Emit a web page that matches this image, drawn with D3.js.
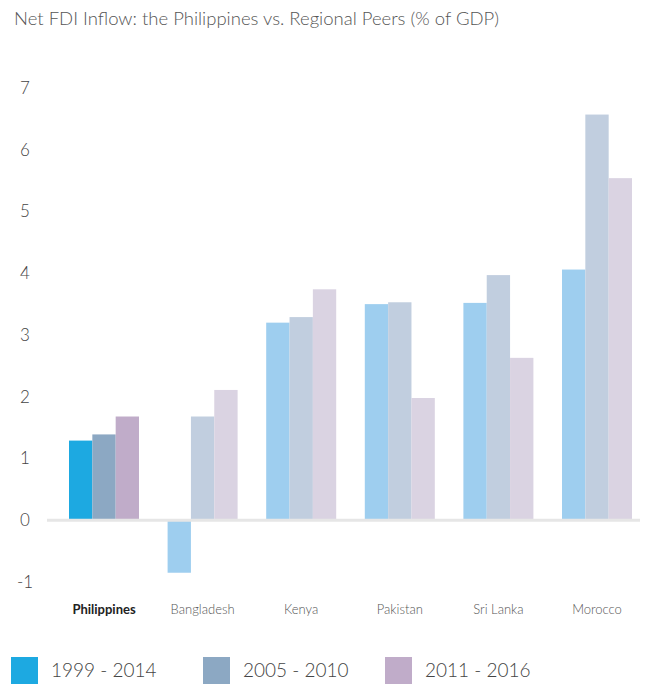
<!DOCTYPE html>
<html>
<head>
<meta charset="utf-8">
<script src="https://cdn.jsdelivr.net/npm/d3@7"></script>
<style>
  html, body { margin: 0; padding: 0; background: #fff; }
  svg { display: block; font-family: Lato, "Open Sans", sans-serif; font-weight: 300; }
</style>
</head>
<body>
<svg id="chart" width="652" height="694"></svg>
<script>
// Net FDI inflow as a share of GDP, by country and period
const countries = ["Philippines", "Bangladesh", "Kenya", "Pakistan", "Sri Lanka", "Morocco"];
const periods = ["1999 - 2014", "2005 - 2010", "2011 - 2016"];
const fdi1999to2014 = [1.29, -0.85, 3.2, 3.5, 3.52, 4.06];
const fdi2005to2010 = [1.39, 1.68, 3.29, 3.53, 3.97, 6.57];
const fdi2011to2016 = [1.68, 2.11, 3.74, 1.98, 2.63, 5.54];
const yTicks = [-1, 0, 1, 2, 3, 4, 5, 6, 7];

const seriesValues = [fdi1999to2014, fdi2005to2010, fdi2011to2016];
const focusColors = ["#1DA9E1", "#8CA8C3", "#C0ACC9"];
const peerColors = ["#9ECEEF", "#C1CEDF", "#DAD3E2"];
const focusCountry = "Philippines";

const svg = d3.select("#chart");

// Title
svg.append("text")
  .attr("x", 14).attr("y", 25)
  .attr("font-size", 18.5)
  .attr("fill", "#555")
  .text("Net FDI Inflow: the Philippines vs. Regional Peers (% of GDP)");

const x0 = d3.scaleBand().domain(countries).range([69, 632]).paddingInner(0.29).paddingOuter(0);
const x1 = d3.scaleBand().domain(d3.range(periods.length)).range([0, x0.bandwidth()]).padding(0);
const y = d3.scaleLinear().domain([-1, 7]).range([582, 88]);

// Y axis labels (no line, no tick marks); plain hyphen for negatives
const yAxis = d3.axisLeft(y).tickValues(yTicks).tickSize(0).tickPadding(0).tickFormat(d => String(d));
const yG = svg.append("g").attr("transform", "translate(25,0)").call(yAxis);
yG.select(".domain").remove();
yG.selectAll("text")
  .attr("text-anchor", "middle")
  .attr("dy", "0.32em")
  .attr("font-family", "Lato, sans-serif")
  .attr("font-weight", 300)
  .attr("font-size", 17)
  .attr("fill", "#444");

// Bars
const groups = svg.append("g").selectAll("g")
  .data(countries)
  .join("g")
  .attr("transform", d => `translate(${x0(d)},0)`);

groups.selectAll("rect")
  .data((c, ci) => seriesValues.map((vals, si) => ({ country: c, si, v: vals[ci] })))
  .join("rect")
  .attr("x", d => x1(d.si))
  .attr("width", x1.bandwidth())
  .attr("y", d => y(Math.max(0, d.v)))
  .attr("height", d => Math.abs(y(d.v) - y(0)))
  .attr("fill", d => d.country === focusCountry ? focusColors[d.si] : peerColors[d.si]);

// Zero baseline
svg.append("line")
  .attr("x1", 47).attr("x2", 640)
  .attr("y1", y(0)).attr("y2", y(0))
  .attr("stroke", "#e6e6e6")
  .attr("stroke-width", 3);

// Country labels
const xAxis = d3.axisBottom(x0).tickSize(0).tickPadding(0);
const xG = svg.append("g").attr("transform", "translate(0,614)").call(xAxis);
xG.select(".domain").remove();
xG.selectAll("text")
  .attr("dy", 0)
  .attr("font-family", "Lato, sans-serif")
  .attr("font-size", 13)
  .attr("fill", d => d === focusCountry ? "#222" : "#555")
  .attr("font-weight", d => d === focusCountry ? "bold" : 300);

// Legend
const legendX = [11, 203, 385];
const legend = svg.append("g").selectAll("g")
  .data(periods)
  .join("g")
  .attr("transform", (d, i) => `translate(${legendX[i]},657)`);
legend.append("rect")
  .attr("width", 27).attr("height", 27)
  .attr("fill", (d, i) => focusColors[i]);
legend.append("text")
  .attr("x", 40).attr("y", 20)
  .attr("font-size", 19)
  .attr("fill", "#444")
  .text(d => d);
</script>
</body>
</html>
